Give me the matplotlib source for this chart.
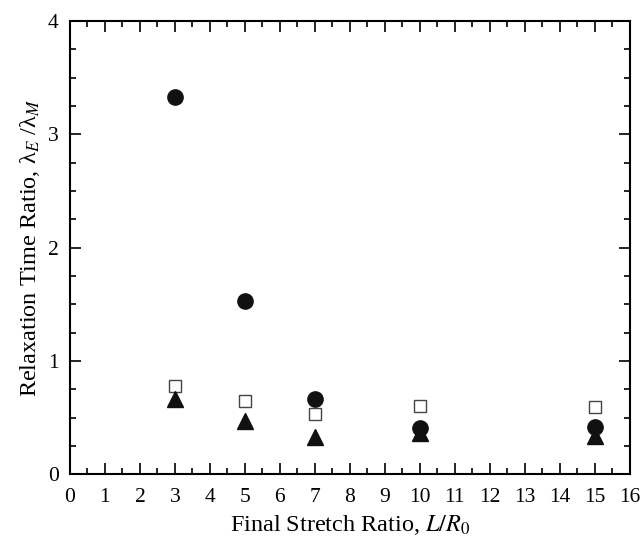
import numpy as np
import matplotlib.pyplot as plt
from matplotlib.ticker import MultipleLocator

plt.rcParams['font.family'] = 'Liberation Serif'
plt.rcParams['mathtext.fontset'] = 'stix'

# data
stretch = np.array([3, 5, 7, 10, 15])
circles = np.array([3.33, 1.53, 0.66, 0.41, 0.42])
squares = np.array([0.78, 0.65, 0.53, 0.60, 0.59])
triangles = np.array([0.66, 0.47, 0.33, 0.36, 0.34])

fig = plt.figure(figsize=(6.42, 5.37), dpi=100)
ax = fig.add_axes([0.109, 0.117, 0.872, 0.844])

ax.plot(stretch, squares, 's', ms=9, mfc='white', mec='#444444', mew=1.0, ls='none')
ax.plot(stretch, circles, 'o', ms=11, color='#111111', ls='none')
ax.plot(stretch, triangles, '^', ms=12, color='#111111', ls='none')

ax.set_xlim(0, 16)
ax.set_ylim(0, 4)
ax.xaxis.set_major_locator(MultipleLocator(1))
ax.xaxis.set_minor_locator(MultipleLocator(0.5))
ax.yaxis.set_major_locator(MultipleLocator(1))
ax.yaxis.set_minor_locator(MultipleLocator(0.25))
ax.tick_params(which='both', direction='in', top=True, right=True, width=1.2, labelsize=15.5)
ax.tick_params(which='major', length=8)
ax.tick_params(which='minor', length=4)
ax.tick_params(axis='x', which='major', pad=10)
ax.tick_params(axis='y', which='major', pad=8)
for s in ax.spines.values():
    s.set_linewidth(1.5)

ax.set_xlabel('Final Stretch Ratio, $L/R_0$', fontsize=17.5, labelpad=4)
ax.set_ylabel('Relaxation Time Ratio, λ$_{E}$ /λ$_{M}$', fontsize=17.5, labelpad=4)

fig.savefig('out.png', dpi=100)
